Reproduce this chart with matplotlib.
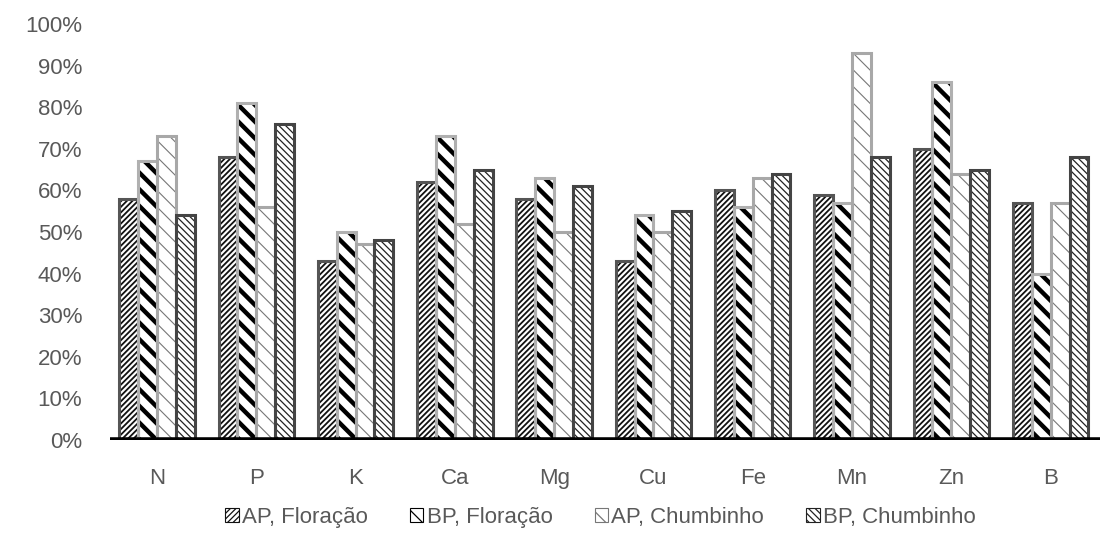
import numpy as np
import matplotlib.pyplot as plt
from matplotlib.patches import Patch

plt.rcParams['font.family'] = ['Liberation Sans', 'DejaVu Sans']

categories = ['N', 'P', 'K', 'Ca', 'Mg', 'Cu', 'Fe', 'Mn', 'Zn', 'B']
series_names = ['AP, Floração', 'BP, Floração', 'AP, Chumbinho', 'BP, Chumbinho']
ap_floracao = [58, 68, 43, 62, 58, 43, 60, 59, 70, 57]
bp_floracao = [67, 81, 50, 73, 63, 54, 56, 57, 86, 40]
ap_chumbinho = [73, 56, 47, 52, 50, 50, 63, 93, 64, 57]
bp_chumbinho = [54, 76, 48, 65, 61, 55, 64, 68, 65, 68]
yticks = [0, 10, 20, 30, 40, 50, 60, 70, 80, 90, 100]

series = [ap_floracao, bp_floracao, ap_chumbinho, bp_chumbinho]
# hatch, hatch colour, hatch width, outline colour
styles = [
    ('//////', '#111111', 1.3, '#555555'),
    ('\\\\', '#000000', 3.2, '#b0b0b0'),
    ('\\\\', '#777777', 0.8, '#a8a8a8'),
    ('\\\\\\\\\\', '#222222', 0.9, '#444444'),
]

fig = plt.figure(figsize=(11.02, 5.5), dpi=100)
ax = fig.add_axes([110 / 1102, 110 / 550, 990 / 1102, 416 / 550])

x = np.arange(len(categories))
w = 0.19
offsets = [-1.5 * w, -0.5 * w, 0.5 * w, 1.5 * w]
handles = []
for vals, off, (h, hc, hw, ec), name in zip(series, offsets, styles, series_names):
    plt.rcParams['hatch.linewidth'] = hw
    ax.bar(x + off, vals, w, color='white', edgecolor=hc, hatch=h, linewidth=0, zorder=2)
    ax.bar(x + off, vals, w, color='none', edgecolor=ec, linewidth=2.2, zorder=3)
    handles.append(Patch(facecolor='white', edgecolor=hc, hatch=h, linewidth=0.8, label=name))

ax.axhline(0, color='black', linewidth=4, zorder=4)
ax.set_xlim(-0.473, 9.497)
ax.set_ylim(0, 100)
ax.set_yticks(yticks)
ax.set_yticklabels([f'{t}%' for t in yticks])
ax.set_xticks(x)
ax.set_xticklabels(categories)
ax.tick_params(length=0, labelsize=16, colors='#595959')
ax.tick_params(axis='y', pad=20)
ax.tick_params(axis='x', pad=20)
for s in ax.spines.values():
    s.set_visible(False)

fig.legend(handles=handles, loc='center', bbox_to_anchor=(0.545, 0.06), ncol=4,
           frameon=False, fontsize=16, labelcolor='#595959', handlelength=0.6,
           handleheight=0.6, handletextpad=0.15, columnspacing=1.9)

fig.savefig('out.png', dpi=100)
